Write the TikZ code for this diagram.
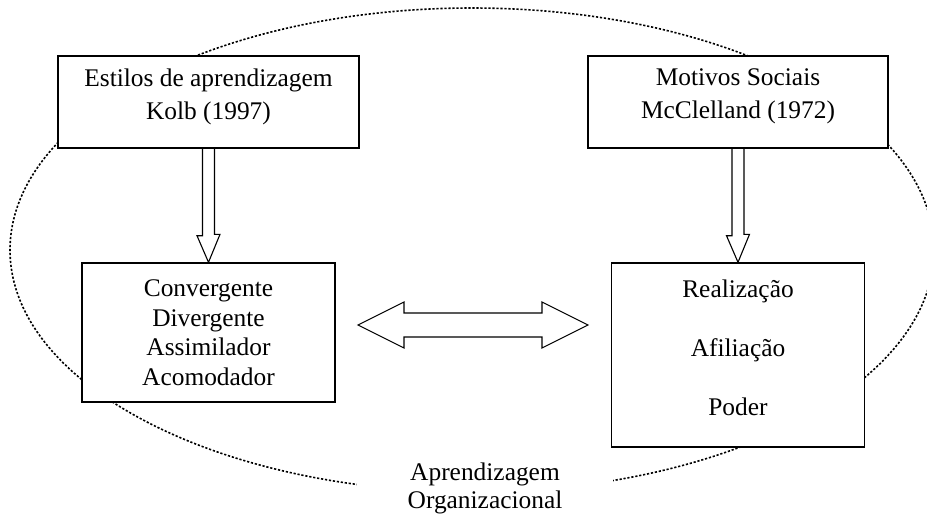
\documentclass[tikz,border=0pt]{standalone}
\usepackage{fontspec}
\setmainfont{Liberation Serif}
\begin{document}
\begin{tikzpicture}[x=1pt,y=1pt,
    caixa/.style={rectangle,draw,fill=white,line width=0.7pt,inner sep=0pt,align=center},
    seta/.style={draw,line width=0.55pt,line join=miter}]
  \useasboundingbox (0,0) rectangle (463.5,258);
  % contorno pontilhado
  \draw[line width=0.8pt,dash pattern=on 1.1pt off 0.9pt] (236,133) ellipse [x radius=231,y radius=121];
  \node[caixa,minimum width=150.5pt,minimum height=46pt,text depth=8.2pt,font=\fontsize{12.7}{16.5}\selectfont] (estilos) at (104.25,207) {Estilos de aprendizagem\\Kolb (1997)};
  \node[caixa,minimum width=150pt,minimum height=46pt,text depth=8.2pt,font=\fontsize{12.7}{16.5}\selectfont] (motivos) at (369,207) {Motivos Sociais\\McClelland (1972)};
  \node[caixa,minimum width=126.5pt,minimum height=69.5pt,font=\fontsize{12.7}{14.75}\selectfont] (tipos) at (104.25,91.75) {Convergente\\Divergente\\Assimilador\\Acomodador};
  \node[caixa,minimum width=126.5pt,minimum height=92pt,text depth=7.5pt,font=\fontsize{12.7}{29.5}\selectfont] (motivacoes) at (369,80.5) {Realização\\Afiliação\\Poder};
  \node[fill=white,minimum width=128pt,align=center,font=\fontsize{12.7}{14}\selectfont] (aprend) at (242.5,14) {Aprendizagem\\Organizacional};
  % setas
  \foreach \cima/\baixo in {estilos/tipos,motivos/motivacoes}
    \draw[seta] ([xshift=-3pt]\cima.south) -- ++(0,-43.5) -- ++(-2.75,0) -- (\baixo.north)
      -- ++(5.75,14) -- ++(-2.75,0) -- ([xshift=3pt]\cima.south);
  \coordinate (esq) at (179,95.5);
  \coordinate (dir) at (294,95.5);
  \draw[seta] (esq) -- ++(23,11.5) -- ++(0,-5.5) -- ++(69,0) -- ++(0,5.5) -- (dir)
    -- ++(-23,-11.5) -- ++(0,5.5) -- ++(-69,0) -- ++(0,-5.5) -- cycle;
\end{tikzpicture}
\end{document}
